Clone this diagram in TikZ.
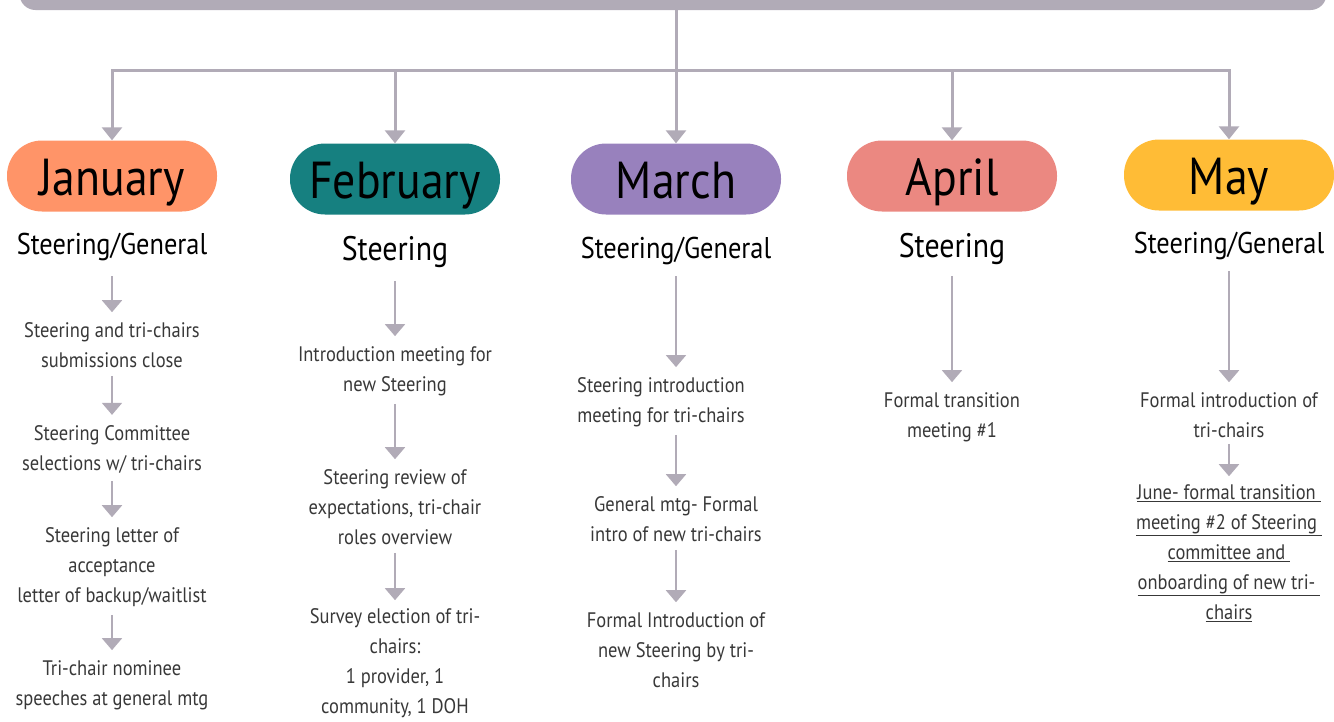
\documentclass[tikz,border=0pt]{standalone}
\usepackage{fontspec}
\setmainfont{PT Sans}[FakeStretch=0.88]
\usepackage{tikz}
\usetikzlibrary{arrows.meta}

\definecolor{linegray}{HTML}{B1ABB7}
\definecolor{bodytext}{HTML}{383838}
\definecolor{janfill}{HTML}{FF9468}
\definecolor{febfill}{HTML}{168080}
\definecolor{marfill}{HTML}{9881BD}
\definecolor{aprfill}{HTML}{EB8881}
\definecolor{mayfill}{HTML}{FFBC36}

\tikzset{
  month/.style={fill=#1, rounded corners=35pt, minimum width=210pt, minimum height=71pt, inner sep=0pt, text height=39pt, text depth=0pt, font=\fontsize{52}{60}\selectfont},
  sub/.style={inner sep=0pt, font=\fontsize{#1}{#1}\selectfont},
  item/.style={align=center, inner sep=0pt, text=bodytext, font=\fontsize{21}{30}\selectfont},
  trunk/.style={draw=linegray, line width=3pt, -{Triangle[width=20pt,length=13pt]}},
  flow/.style={draw=linegray, line width=2pt, -{Triangle[width=20pt,length=12pt]}}
}

\begin{document}
\begin{tikzpicture}[x=1pt, y=-1pt]
                \useasboundingbox (0,0) rectangle (1334,721);
                \clip (0,0) rectangle (1334,721);
                % top bar and tree
                \node[fill=linegray, rounded corners=16pt, minimum width=1307pt, minimum height=40pt] (bar) at (673,-10) {};
                \coordinate (hub) at (676,70);
                \draw[draw=linegray, line width=3pt] (bar.south -| hub) -- (hub);
                % months
                \node[month=janfill] (jan) at (112,176) {January};
                \node[month=febfill] (feb) at (395,179) {February};
                \node[month=marfill] (mar) at (676,179) {March};
                \node[month=aprfill] (apr) at (952,176) {April};
                \node[month=mayfill] (may) at (1229,175) {May};
                \draw[trunk] (hub) -| (jan.north);
                \draw[trunk] (hub) -| (feb.north);
                \draw[trunk] (hub) -- (mar.north);
                \draw[trunk] (hub) -| (apr.north);
                \draw[trunk] (hub) -| (may.north);
                % sub headings
                \node[sub=30] (jansub) at (112,247) {Steering/General};
                \node[sub=34] (febsub) at (395,252) {Steering};
                \node[sub=30] (marsub) at (676,251) {Steering/General};
                \node[sub=34] (aprsub) at (952,249) {Steering};
                \node[sub=30] (maysub) at (1229,246) {Steering/General};
                % January
                \node[item] (jan1) at (112,345) {Steering and tri-chairs\\submissions close};
                \node[item] (jan2) at (112,449) {Steering Committee\\selections w/ tri-chairs};
                \node[item] (jan3) at (112,567) {Steering letter of\\acceptance\\letter of backup/waitlist};
                \node[item] (jan4) at (112,685) {Tri-chair nominee\\speeches at general mtg};
                \draw[flow, shorten <=15pt, shorten >=10pt] (jansub) -- (jan1);
                \draw[flow, shorten <=8pt, shorten >=10pt] (jan1) -- (jan2);
                \draw[flow, shorten <=8pt, shorten >=10pt] (jan2) -- (jan3);
                \draw[flow, shorten <=8pt, shorten >=10pt] (jan3) -- (jan4);
                % February
                \node[item] (feb1) at (395,371) {Introduction meeting for\\new Steering};
                \node[item] (feb2) at (395,507) {Steering review of\\expectations, tri-chair\\roles overview};
                \node[item] (feb3) at (395,663) {Survey election of tri-\\chairs:\\1 provider, 1\\community, 1 DOH};
                \draw[flow, shorten <=13pt, shorten >=10pt] (febsub) -- (feb1);
                \draw[flow, shorten <=8pt, shorten >=10pt] (feb1) -- (feb2);
                \draw[flow, shorten <=8pt, shorten >=8pt] (feb2) -- (feb3);
                % March
                \node[item] (mar1) at (661,402) {Steering introduction\\meeting for tri-chairs};
                \node[item] (mar2) at (676,519) {General mtg- Formal\\intro of new tri-chairs};
                \node[item] (mar3) at (676,650) {Formal Introduction of\\new Steering by tri-\\chairs};
                \draw[flow, shorten <=11pt, shorten >=10pt] (marsub) -- (mar1.north -| marsub);
                \draw[flow, shorten <=8pt, shorten >=10pt] (mar1.south -| mar2) -- (mar2);
                \draw[flow, shorten <=8pt, shorten >=10pt] (mar2) -- (mar3);
                % April
                \node[item] (apr1) at (952,417) {Formal transition\\meeting \#1};
                \draw[flow, shorten <=11pt, shorten >=10pt] (aprsub) -- (apr1);
                % May
                \node[item] (may1) at (1229,415) {Formal introduction of\\tri-chairs};
                \node[item] (may2) at (1229,553) {\underline{June- formal transition\ }\\\underline{meeting \#2 of Steering\ }\\\underline{committee and\ }\\\underline{onboarding of new tri-\ }\\\underline{chairs}};
                \draw[flow, shorten <=11pt, shorten >=10pt] (maysub) -- (may1);
                \draw[flow, shorten <=6pt, shorten >=8pt] (may1) -- (may2);
              \end{tikzpicture}
\end{document}
